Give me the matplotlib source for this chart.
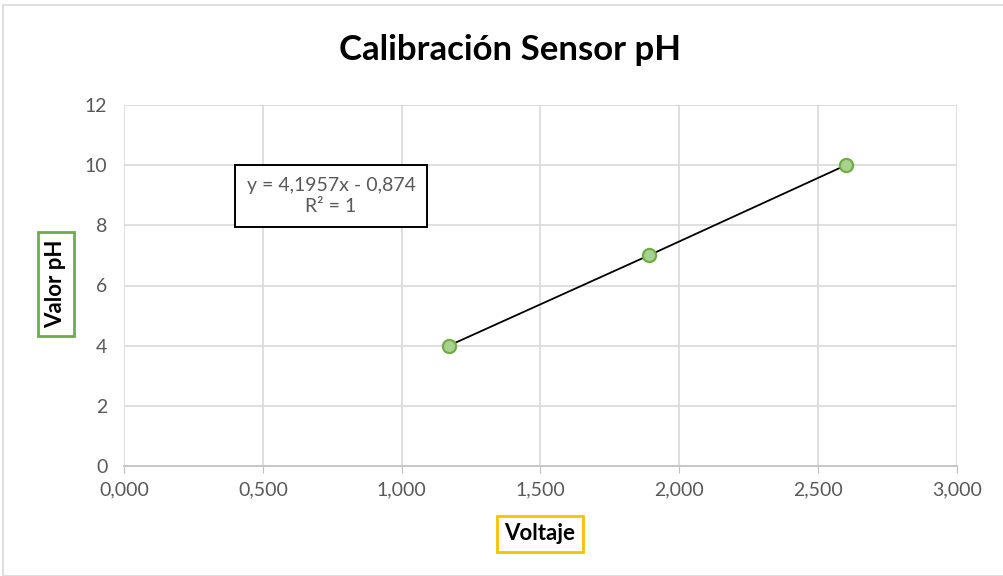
import matplotlib.pyplot as plt
from matplotlib.patches import Rectangle

voltaje = [1.170, 1.890, 2.600]
valor_ph = [4, 7, 10]
x_ticks = [0, 0.5, 1.0, 1.5, 2.0, 2.5, 3.0]
x_labels = ["0,000", "0,500", "1,000", "1,500", "2,000", "2,500", "3,000"]
y_ticks = [0, 2, 4, 6, 8, 10, 12]
ecuacion = "y = 4,1957x - 0,874\nR² = 1"

plt.rcParams['font.family'] = ['Lato', 'DejaVu Sans']

fig = plt.figure(figsize=(10.04, 5.76), dpi=100)
fig.patches.append(Rectangle((3 / 1004, 0), 1, 1 - 5 / 576, transform=fig.transFigure,
                             fill=False, edgecolor='#d9d9d9', linewidth=1.2))
ax = fig.add_axes([124 / 1004, 1 - 466 / 576, 833 / 1004, 361 / 576])

ax.plot(voltaje, valor_ph, color='black', linewidth=1.3, zorder=3)
ax.scatter(voltaje, valor_ph, s=90, facecolor='#a9d18e', edgecolor='#70ad47',
           linewidth=1.6, zorder=4)

ax.set_xlim(0, 3)
ax.set_ylim(0, 12)
ax.set_xticks(x_ticks)
ax.set_xticklabels(x_labels)
ax.set_yticks(y_ticks)
ax.grid(True, color='#d9d9d9', linewidth=1.2)
ax.set_axisbelow(True)
for s in ['top', 'right', 'left']:
    ax.spines[s].set_visible(False)
ax.spines['bottom'].set_color('#bfbfbf')
ax.spines['bottom'].set_linewidth(1.2)
ax.tick_params(axis='x', colors='#595959', labelsize=14, length=5, color='#bfbfbf', pad=6)
ax.tick_params(axis='y', colors='#595959', labelsize=14, length=0, pad=12)

fig.text(510 / 1004, 1 - 50 / 576, "Calibración Sensor pH", ha='center', va='center',
         fontsize=25, fontweight='bold')

ax.text(331 / 1004, 1 - 196 / 576, ecuacion, transform=fig.transFigure, ha='center',
        va='center', fontsize=14, color='#595959', linespacing=1.3,
        bbox=dict(boxstyle='square,pad=0.6', facecolor='white', edgecolor='black',
                  linewidth=1.4))

fig.text(56 / 1004, 1 - 284 / 576, "Valor pH", rotation=90, ha='center', va='center',
         fontsize=16, fontweight='bold',
         bbox=dict(boxstyle='square,pad=0.35', facecolor='white', edgecolor='#70ad47',
                   linewidth=2))
fig.text(540 / 1004, 1 - 534 / 576, "Voltaje", ha='center', va='center',
         fontsize=16, fontweight='bold',
         bbox=dict(boxstyle='square,pad=0.35', facecolor='white', edgecolor='#ffc000',
                   linewidth=2))

fig.savefig("out.png", dpi=100)
